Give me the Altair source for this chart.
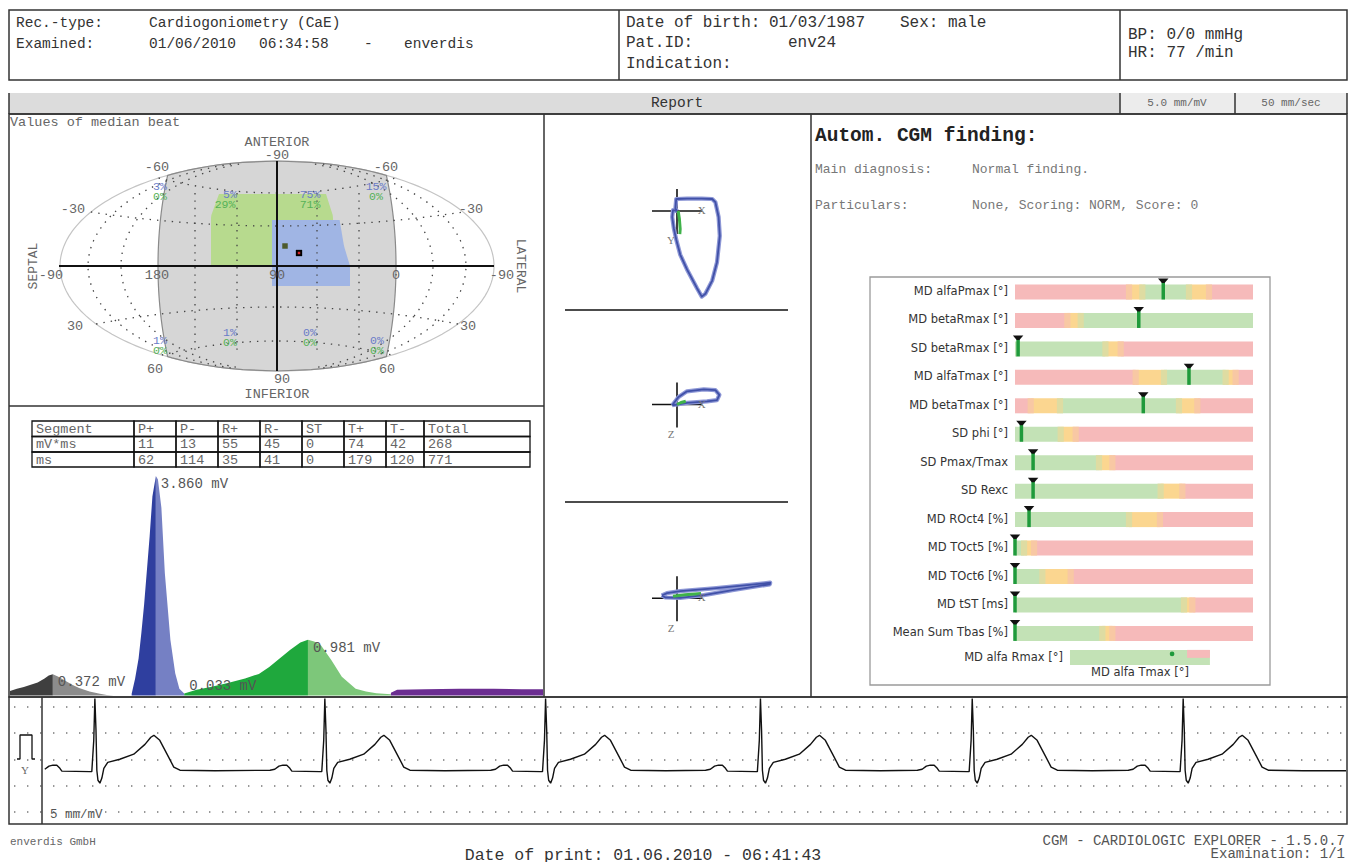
import altair as alt
import numpy as np
import pandas as pd

# ------------------------------------------------------------------ data
rec_type = "Cardiogoniometry (CaE)"
exam_day = "01/06/2010"
exam_time = "06:34:58"
exam_user = "enverdis"
birth_date = "01/03/1987"
sex_txt = "Sex: male"
pat_id = "env24"
bp_line = "BP: 0/0 mmHg"
hr_line = "HR: 77 /min"
gain_txt = "5.0 mm/mV"
speed_txt = "50 mm/sec"

table_head = ["Segment", "P+", "P-", "R+", "R-", "ST", "T+", "T-", "Total"]
table_area = ["mV*ms", "11", "13", "55", "45", "0", "74", "42", "268"]
table_dur = ["ms", "62", "114", "35", "41", "0", "179", "120", "771"]

# median-beat amplitude histogram (time in ms, amplitude in mV)
p_pos_t = [0, 10, 20, 30, 40, 50, 56, 62]
p_pos_v = [0.08, 0.12, 0.15, 0.19, 0.23, 0.30, 0.35, 0.372]
p_neg_t = [62, 70, 80, 90, 100, 115, 130, 140, 150, 176]
p_neg_v = [0.372, 0.33, 0.26, 0.19, 0.13, 0.07, 0.03, 0.01, 0.0, 0.0]
r_pos_t = [176, 181, 186, 190, 194, 198, 202, 206, 211]
r_pos_v = [0.03, 0.30, 0.65, 1.10, 1.60, 2.20, 2.80, 3.50, 3.86]
r_neg_t = [211, 214, 219, 224, 232, 239, 245, 252]
r_neg_v = [3.86, 3.80, 3.30, 2.15, 0.98, 0.39, 0.12, 0.033]
t_pos_t = [252, 270, 290, 315, 340, 360, 375, 390, 405, 420, 431]
t_pos_v = [0.033, 0.10, 0.15, 0.22, 0.30, 0.38, 0.50, 0.65, 0.80, 0.93, 0.981]
t_neg_t = [431, 440, 450, 465, 480, 500, 515, 530, 551]
t_neg_v = [0.981, 0.95, 0.88, 0.62, 0.33, 0.12, 0.07, 0.04, 0.02]
rest_t = [551, 560, 600, 650, 700, 740, 771]
rest_v = [0.05, 0.10, 0.11, 0.12, 0.12, 0.11, 0.11]
peak_labels = ["0.372 mV", "3.860 mV", "0.981 mV"]
peak_t = [62, 211, 431]
peak_v = [0.372, 3.86, 0.981]
low_label = ["0.033 mV"]
low_t = [252]
low_v = [0.033]

# sphere (values of median beat)
sphere_lbl = ["ANTERIOR", "-90", "-60", "-60", "-30", "-30", "-90", "180", "90", "0",
              "-90", "30", "30", "60", "60", "90", "INFERIOR"]
pct_blue = ["3%", "5%", "75%", "15%", "1%", "1%", "0%", "0%"]
pct_green = ["0%", "29%", "71%", "0%", "0%", "0%", "0%", "0%"]
green_y = [-72, -50, 0]
green_l = [-58, -66, -66]
green_r = [49, 56, 56]
blue_y = [-46, -20, 0, 20]
blue_l = [-5, -5, -5, -5]
blue_r = [62.6, 67, 73, 73]

# vector loops (mV)
loop1_x = [0, -0.04, -0.02, 0.25, 0.62, 0.88, 0.96, 1.04, 1.07, 1.0, 0.88, 0.71, 0.62, 0.5, 0.25, 0.08, -0.02, -0.08, -0.12, -0.1, 0]
loop1_y = [0, -0.06, -0.3, -0.31, -0.31, -0.3, -0.22, 0.15, 0.62, 1.28, 1.74, 2.07, 2.14, 1.93, 1.46, 1.09, 0.71, 0.43, 0.15, -0.02, 0]
tloop1_x = [0.03, 0.06, 0.08, 0.07]
tloop1_y = [0.0, 0.2, 0.45, 0.58]
loop2_x = [-0.12, 0.04, 0.25, 0.67, 0.96, 1.06, 1.0, 0.75, 0.25, 0, -0.12]
loop2_z = [0.02, -0.19, -0.33, -0.38, -0.36, -0.24, -0.11, -0.08, -0.04, 0, 0.02]
tloop2_x = [0.0, 0.1, 0.22]
tloop2_z = [0.0, -0.05, -0.08]
loop3_x = [-0.38, -0.25, 0.08, 0.92, 1.75, 2.33, 2.32, 1.42, 0.67, 0.08, -0.29, -0.38]
loop3_z = [-0.07, -0.13, -0.18, -0.25, -0.33, -0.39, -0.35, -0.21, -0.08, -0.01, -0.02, -0.07]
tloop3_x = [-0.1, 0.2, 0.6]
tloop3_z = [-0.05, -0.09, -0.12]

# CGM score gauges (0..100 % of scale)
gauge_names = ["MD alfaPmax [°]", "MD betaRmax [°]", "SD betaRmax [°]", "MD alfaTmax [°]",
               "MD betaTmax [°]", "SD phi [°]", "SD Pmax/Tmax", "SD Rexc", "MD ROct4 [%]",
               "MD TOct5 [%]", "MD TOct6 [%]", "MD tST [ms]", "Mean Sum Tbas [%]"]
gauge_marker = [62.3, 52.0, 1.3, 73.1, 53.9, 2.7, 7.6, 7.6, 5.9, 0.0, 0.0, 0.0, 0.0]
gauge_bounds = [[47.9, 53.5, 73.1, 81.5, 100], [22, 27.6, 100], [38, 44.4, 100],
                [50.7, 62.6, 88.5, 92.7, 100], [6.6, 18.9, 68.9, 76.6, 100], [19.2, 25.5, 100],
                [35.3, 40.9, 100], [61.2, 70.3, 100], [47.9, 60.9, 100], [3.8, 8.0, 100],
                [11.5, 23.4, 100], [71.0, 74.5, 100], [36.7, 40.9, 100]]
gauge_zones = [["p", "y", "g", "y", "p"], ["p", "y", "g"], ["g", "y", "p"],
               ["p", "y", "g", "y", "p"], ["p", "y", "g", "y", "p"], ["g", "y", "p"],
               ["g", "y", "p"], ["g", "y", "p"], ["g", "y", "p"], ["g", "y", "p"],
               ["g", "y", "p"], ["g", "y", "p"], ["g", "y", "p"]]
alfa_box_x = [23.1, 81.9]
alfa_pink_x = [72.3, 81.9]
alfa_dot = [66.0]

# ECG strip: one beat template (ms from R, mV) and R-peak times
beat_t = [-196, -179, -164, -150, -136, -125, -118, -18, -11, -4, 0, 4, 7, 11, 18, 25, 32, 46,
          89, 139, 179, 200, 211, 232, 264, 282, 304, 429]
beat_v = [0.0, 0.04, 0.17, 0.21, 0.21, 0.08, -0.04, -0.06, -0.06, 1.25, 3.0, 1.67, 0.0, -0.42,
          -0.54, -0.33, 0.08, 0.33, 0.46, 0.67, 1.08, 1.38, 1.46, 1.25, 0.54, 0.13, 0.0, -0.02]
r_peaks_ms = [189, 1011, 1800, 2568, 3325, 4079]
tail_t = [4661]
tail_v = [-0.02]
cal_v = [0, 0, 1, 1, 0, 0]

# ------------------------------------------------------------------ style / helpers
MONO = "Liberation Mono"
SANS = "DejaVu Sans"
SERIF = "Liberation Serif"
INK = "#333333"
GREY = "#666666"
SW = 1.5
W = 1338


def sc(domain, rng):
    return alt.Scale(domain=domain, range=rng, nice=False, zero=False)


def text_layer(rows, size, color=INK, font=MONO, align="left", weight="normal", angle=None,
               baseline="middle", ox=0, oy=0):
    df = pd.DataFrame(rows, columns=["label", "px", "py"])
    df["px"] = df["px"] + ox
    df["py"] = df["py"] + oy
    kw = dict(font=font, fontSize=size, color=color, align=align, baseline=baseline,
              fontWeight=weight)
    if angle is not None:
        kw["angle"] = angle
    return alt.Chart(df).mark_text(**kw).encode(
        x=alt.X("px:Q", scale=None, axis=None),
        y=alt.Y("py:Q", scale=None, axis=None),
        text="label:N")


def vdiv(x, y0, y1, color=INK, width=SW):
    return alt.Chart(pd.DataFrame({"a": [0]})).mark_rule(color=color, strokeWidth=width).encode(
        x=alt.value(x), y=alt.value(y0), y2=alt.value(y1))


def hdiv(y, x0, x1, color=INK, width=SW):
    return alt.Chart(pd.DataFrame({"a": [0]})).mark_rule(color=color, strokeWidth=width).encode(
        y=alt.value(y), x=alt.value(x0), x2=alt.value(x1))


def box(x0, x1, y0, y1, **kw):
    return alt.Chart(pd.DataFrame({"a": [0]})).mark_rect(**kw).encode(
        x=alt.value(x0), x2=alt.value(x1), y=alt.value(y0), y2=alt.value(y1))


def panel(layers, h, border=True):
    ch = alt.layer(*layers).resolve_scale(x="independent", y="independent", color="independent")
    props = dict(width=W, height=h)
    if not border:
        props["view"] = alt.ViewBackground(stroke="transparent")
    return ch.properties(**props)


# ------------------------------------------------------------------ row A: header
rowA = panel([
    text_layer([("Rec.-type:", 7, 13), (rec_type, 140, 13), ("Examined:", 7, 34),
                (exam_day, 140, 34), (exam_time, 250, 34), ("-", 355, 34),
                (exam_user, 395, 34)], 14.5),
    text_layer([("Date of birth:", 7, 12), (birth_date, 150, 12), (sex_txt, 281, 12),
                ("Pat.ID:", 7, 32), (pat_id, 169, 32), ("Indication:", 7, 53)], 16, ox=610),
    text_layer([(bp_line, 8, 24), (hr_line, 8, 42)], 16, ox=1111),
    vdiv(610, 0, 70), vdiv(1111, 0, 70),
], 70)

spacer = panel([
    alt.Chart(pd.DataFrame({"a": [0]})).mark_rule(opacity=0).encode(
        x=alt.value(2), x2=alt.value(10), y=alt.value(5))
], 13, border=False)

# ------------------------------------------------------------------ row B: report bar
rowB = panel([
    box(0, 1111, 0, 21, color="#dcdcdc"),
    box(1111, W, 0, 21, color="#ececec"),
    vdiv(0, 0, 21), vdiv(1111, 0, 21), vdiv(1226, 0, 21), vdiv(W, 0, 21),
    hdiv(21, 0, W),
    text_layer([("Report", 668, 10)], 14.5, align="center"),
    text_layer([(gain_txt, 1168, 10), (speed_txt, 1282, 10)], 11, color=GREY, align="center"),
], 21, border=False)

# ------------------------------------------------------------------ row C: sphere
A_, B_ = 217.0, 105.0
SX = sc([-268, 267], [0, 535])
SY = sc([-152, 140], [0, 292])


def sxy(xf="x", yf="y"):
    return dict(x=alt.X(f"{xf}:Q", scale=SX, axis=None), y=alt.Y(f"{yf}:Q", scale=SY, axis=None))


tt = np.linspace(0, 2 * np.pi, 241)
ell_df = pd.DataFrame({"x": A_ * np.cos(tt), "y": B_ * np.sin(tt), "o": np.arange(241)})
ys = np.linspace(-B_, B_, 161)
half = np.minimum(A_ * np.sqrt(np.clip(1 - (ys / B_) ** 2, 0, None)),
                  119 * np.sqrt(1 - (ys / 230) ** 2))
lens_df = pd.DataFrame({"y": ys, "xl": -half, "xr": half})
lens_line = pd.DataFrame({"x": np.concatenate([-half, half[::-1]]),
                          "y": np.concatenate([ys, ys[::-1]]),
                          "o": np.arange(2 * len(ys))})

grid = []
gid = 0
for ye, yc in [(-54, -40), (-88, -73), (58, 41), (89, 75)]:
    xe = A_ * np.sqrt(1 - (ye / B_) ** 2)
    xs = np.linspace(-xe, xe, 81)
    for i, xv in enumerate(xs):
        grid.append((gid, i, xv, yc + (ye - yc) * (xv / xe) ** 2))
    gid += 1
for xq in [-189, -156, 156, 189]:
    yy = np.linspace(-0.97 * B_, 0.97 * B_, 81)
    for i, yv in enumerate(yy):
        grid.append((gid, i, xq * np.sqrt(1 - (yv / B_) ** 2), yv))
    gid += 1
for xq in [-82, -40, 40, 82]:
    for i, yv in enumerate([-73, 85]):
        grid.append((gid, i, xq, yv))
    gid += 1
grid_df = pd.DataFrame(grid, columns=["g", "o", "x", "y"])

gy = np.linspace(-72, 0, 25)
green_df = pd.DataFrame({"y": gy, "xl": np.interp(gy, green_y, green_l),
                         "xr": np.interp(gy, green_y, green_r)})
by = np.linspace(-46, 20, 25)
blue_df = pd.DataFrame({"y": by, "xl": np.interp(by, blue_y, blue_l),
                        "xr": np.interp(by, blue_y, blue_r)})
cross_df = pd.DataFrame({"x": [-218, 0], "x2": [217, 0], "y": [0, -105], "y2": [0, 105]})

lbl_pos = [(0, -124), (0, -111), (-120, -99), (109, -99), (-204, -57), (194, -57), (-226, 9),
           (-120, 9), (0, 9), (119, 9), (225, 9), (-202, 60), (191, 60), (-122, 103),
           (110, 103), (5, 113), (0, 128)]
lbl_df = pd.DataFrame({"t": sphere_lbl, "x": [p[0] for p in lbl_pos], "y": [p[1] for p in lbl_pos]})
pb_pos = [(-117, -79), (-47, -71), (33, -71), (99, -79), (-117, 75), (-47, 67), (33, 67), (100, 75)]
pg_pos = [(-117, -69), (-52, -61), (33, -61), (99, -69), (-117, 85), (-47, 77), (33, 77), (100, 85)]
pb_df = pd.DataFrame({"t": pct_blue, "x": [p[0] for p in pb_pos], "y": [p[1] for p in pb_pos]})
pg_df = pd.DataFrame({"t": pct_green, "x": [p[0] for p in pg_pos], "y": [p[1] for p in pg_pos]})
mk_df = pd.DataFrame({"x": [8], "y": [-20]})
mk2_df = pd.DataFrame({"x": [22], "y": [-13]})

sphere_layers = [
    alt.Chart(lens_df).mark_area(orient="horizontal", color="#d6d6d6").encode(
        y=alt.Y("y:Q", scale=SY, axis=None), x=alt.X("xl:Q", scale=SX, axis=None), x2="xr:Q"),
    alt.Chart(green_df).mark_area(orient="horizontal", color="#b7da8e").encode(
        y=alt.Y("y:Q", scale=SY, axis=None), x=alt.X("xl:Q", scale=SX, axis=None), x2="xr:Q"),
    alt.Chart(blue_df).mark_area(orient="horizontal", color="#a0b5e4").encode(
        y=alt.Y("y:Q", scale=SY, axis=None), x=alt.X("xl:Q", scale=SX, axis=None), x2="xr:Q"),
    alt.Chart(ell_df).mark_line(color="#c4c4c4", strokeWidth=1.2).encode(**sxy(), order="o:Q"),
    alt.Chart(lens_line).mark_line(color="#8a8a8a", strokeWidth=1.2).encode(**sxy(), order="o:Q"),
    alt.Chart(grid_df).mark_line(color="#444444", strokeWidth=1.3, strokeDash=[1.4, 6]).encode(
        **sxy(), order="o:Q", detail="g:N"),
    alt.Chart(cross_df).mark_rule(color="#111111", strokeWidth=2).encode(
        x=alt.X("x:Q", scale=SX, axis=None), x2="x2:Q",
        y=alt.Y("y:Q", scale=SY, axis=None), y2="y2:Q"),
    alt.Chart(mk_df).mark_square(size=30, color="#4d5a2c", opacity=1).encode(**sxy()),
    alt.Chart(mk2_df).mark_square(size=40, color="#000000", opacity=1).encode(**sxy()),
    alt.Chart(mk2_df).mark_square(size=6, color="#d62728", opacity=1).encode(**sxy()),
    alt.Chart(lbl_df).mark_text(font=MONO, fontSize=13.5, color=GREY, baseline="middle").encode(
        **sxy(), text="t:N"),
    alt.Chart(pb_df).mark_text(font=MONO, fontSize=11.5, color="#6a7cc8", baseline="middle").encode(
        **sxy(), text="t:N"),
    alt.Chart(pg_df).mark_text(font=MONO, fontSize=11.5, color="#55b257", baseline="middle").encode(
        **sxy(), text="t:N"),
    text_layer([("SEPTAL", 24, 152)], 13, color=GREY, align="center", angle=270),
    text_layer([("LATERAL", 512, 152)], 13, color=GREY, align="center", angle=90),
    text_layer([("Values of median beat", 1, 8)], 13.5, color=GREY),
]

# ------------------------------------------------------------------ row C: histogram
HOY = 292  # top of the histogram cell inside row C
col_edges = [23, 125, 167, 209, 251, 293, 335, 377, 415, 521]
row_edges = [15, 30.5, 46, 61]
cells = []
for r, row in enumerate([table_head, table_area, table_dur]):
    for c, val in enumerate(row):
        cells.append((val, col_edges[c], col_edges[c + 1], row_edges[r] + HOY,
                      row_edges[r + 1] + HOY))
cell_df = pd.DataFrame(cells, columns=["label", "x0", "x1", "y0", "y1"])
cell_df["tx"] = cell_df["x0"] + 4
cell_df["ty"] = (cell_df["y0"] + cell_df["y1"]) / 2

seg_names = ["P+", "P-", "R+", "R-", "T+", "T-", "rest"]
seg_colors = ["#3f3f3f", "#8c8c8c", "#2f3f9f", "#7580c4", "#1fa83d", "#7dc77a", "#6b2d91"]
seg_series = [(p_pos_t, p_pos_v), (p_neg_t, p_neg_v), (r_pos_t, r_pos_v), (r_neg_t, r_neg_v),
              (t_pos_t, t_pos_v), (t_neg_t, t_neg_v), (rest_t, rest_v)]
hist_rows = []
for name, (ts, vs) in zip(seg_names, seg_series):
    for tv, vv in zip(ts, vs):
        hist_rows.append((name, tv, vv))
hist_df = pd.DataFrame(hist_rows, columns=["seg", "t", "v"])
HX = sc([0, 771], [1, 534])
HY = sc([0, 3.86], [HOY + 289.5, HOY + 70])
pk_df = pd.DataFrame({"label": peak_labels, "t": peak_t, "v": peak_v})
lo_df = pd.DataFrame({"label": low_label, "t": low_t, "v": low_v})

hist_layers = [
    alt.Chart(hist_df).mark_area(interpolate="linear").encode(
        x=alt.X("t:Q", scale=HX, axis=None),
        y=alt.Y("v:Q", scale=HY, axis=None, stack=None),
        color=alt.Color("seg:N", scale=alt.Scale(domain=seg_names, range=seg_colors), legend=None)),
    alt.Chart(cell_df).mark_rect(fillOpacity=0, stroke="#111111", strokeWidth=1.3).encode(
        x=alt.X("x0:Q", scale=None, axis=None), x2="x1:Q",
        y=alt.Y("y0:Q", scale=None, axis=None), y2="y1:Q"),
    alt.Chart(cell_df).mark_text(font=MONO, fontSize=13.5, color=GREY, align="left",
                                 baseline="middle").encode(
        x=alt.X("tx:Q", scale=None, axis=None), y=alt.Y("ty:Q", scale=None, axis=None),
        text="label:N"),
    alt.Chart(pk_df).mark_text(font=MONO, fontSize=14, color="#555555", align="left",
                               baseline="middle", dx=5, dy=8).encode(
        x=alt.X("t:Q", scale=HX, axis=None), y=alt.Y("v:Q", scale=HY, axis=None), text="label:N"),
    alt.Chart(lo_df).mark_text(font=MONO, fontSize=14, color="#555555", align="left",
                               baseline="middle", dx=5, dy=-8).encode(
        x=alt.X("t:Q", scale=HX, axis=None), y=alt.Y("v:Q", scale=HY, axis=None), text="label:N"),
]

# ------------------------------------------------------------------ row C: loops
MOX = 535
MX = sc([-3.325, 3.35], [MOX, MOX + 267])
MY = sc([0, 14.575], [0, 583])
plane_off = [2.425, 7.2625, 12.1075]
loops = [(loop1_x, loop1_y), (loop2_x, loop2_z), (loop3_x, loop3_z)]
tloops = [(tloop1_x, tloop1_y), (tloop2_x, tloop2_z), (tloop3_x, tloop3_z)]
lp, tl = [], []
for k, ((lx, ly), (gx, gyy)) in enumerate(zip(loops, tloops)):
    for i, (a, b) in enumerate(zip(lx, ly)):
        lp.append((k, i, a, b + plane_off[k]))
    for i, (a, b) in enumerate(zip(gx, gyy)):
        tl.append((k, i, a, b + plane_off[k]))
lp_df = pd.DataFrame(lp, columns=["k", "o", "x", "y"])
tl_df = pd.DataFrame(tl, columns=["k", "o", "x", "y"])
cr = []
for off in plane_off:
    cr.append((-0.625, 0.625, off, off))
    cr.append((0.0, 0.0, off - 0.55, off + 0.575))
cr_df = pd.DataFrame(cr, columns=["x", "x2", "y", "y2"])
ax_lbl = []
for off, v in zip(plane_off, ["Y", "Z", "Z"]):
    ax_lbl.append(("X", 0.62, off))
    ax_lbl.append((v, -0.15, off + 0.76))
ax_df = pd.DataFrame(ax_lbl, columns=["t", "x", "y"])


def mxy():
    return dict(x=alt.X("x:Q", scale=MX, axis=None), y=alt.Y("y:Q", scale=MY, axis=None))


mid_layers = [
    hdiv(196, MOX + 21, MOX + 244, color="#111111"),
    hdiv(388, MOX + 21, MOX + 244, color="#111111"),
    alt.Chart(cr_df).mark_rule(color="#111111", strokeWidth=1.6).encode(
        x=alt.X("x:Q", scale=MX, axis=None), x2="x2:Q",
        y=alt.Y("y:Q", scale=MY, axis=None), y2="y2:Q"),
    alt.Chart(lp_df).mark_line(color="#8e98d6", strokeWidth=4.2, strokeJoin="round").encode(
        **mxy(), order="o:Q", detail="k:N"),
    alt.Chart(lp_df).mark_line(color="#4151a8", strokeWidth=1.8, strokeJoin="round").encode(
        **mxy(), order="o:Q", detail="k:N"),
    alt.Chart(tl_df).mark_line(color="#3fb24a", strokeWidth=3, strokeJoin="round").encode(
        **mxy(), order="o:Q", detail="k:N"),
    alt.Chart(ax_df).mark_text(font=SERIF, fontSize=11, color="#777777", baseline="middle").encode(
        **mxy(), text="t:N"),
]

# ------------------------------------------------------------------ row C: findings / gauges
ROX = 802
GX = sc([0, 100], [ROX + 204, ROX + 442])
GY = sc([0, 12], [178, 519.4])
BAR_HALF = 0.264
FADE = 1.3  # half-width of the soft colour transition between zones
seg_rows = []
for r, (bnds, zns) in enumerate(zip(gauge_bounds, gauge_zones)):
    start = 0.0
    for b, z in zip(bnds, zns):
        seg_rows.append((r, start, b, z))
        start = b
    for b, z0, z1 in zip(bnds[:-1], zns[:-1], zns[1:]):
        seg_rows.append((r, b - FADE, b + FADE, "".join(sorted(z0 + z1))))
g_df = pd.DataFrame(seg_rows, columns=["row", "x0", "x1", "zone"])
g_df["y0"] = g_df["row"] - BAR_HALF
g_df["y1"] = g_df["row"] + BAR_HALF
m_df = pd.DataFrame({"row": range(len(gauge_marker)), "v": gauge_marker, "name": gauge_names})
m_df["y0"] = m_df["row"] - 0.36
m_df["y1"] = m_df["row"] + BAR_HALF
m_df["yc"] = m_df["row"] - 0.40
mini = pd.DataFrame({"x0": [alfa_box_x[0], alfa_pink_x[0]], "x1": [alfa_box_x[1], alfa_pink_x[1]],
                     "y0": [12.58, 12.58], "y1": [13.11, 12.86], "zone": ["g", "p"]})
dot_df = pd.DataFrame({"v": alfa_dot, "y": [12.72]})
zone_scale = alt.Scale(domain=["p", "y", "g", "py", "gy", "gp"],
                       range=["#f6baba", "#fbd690", "#c3e2b6", "#f8c8a4", "#dedca2", "#dccdb6"])
cap_shape = "M -1 -0.4 L 1 -0.4 L 0.25 0.45 L -0.25 0.45 Z"

right_layers = [
    text_layer([("Autom. CGM finding:", 4, 21)], 19.5, color="#222222", weight="bold", ox=ROX),
    text_layer([("Main diagnosis:", 4, 55), ("Normal finding.", 161, 55),
                ("Particulars:", 4, 91), ("None, Scoring: NORM, Score: 0", 161, 91)],
               13, color="#777777", ox=ROX),
    box(ROX + 59, ROX + 459, 163, 571, fillOpacity=0, stroke="#9a9a9a", strokeWidth=1.3),
    alt.Chart(g_df).mark_rect().encode(
        x=alt.X("x0:Q", scale=GX, axis=None), x2="x1:Q",
        y=alt.Y("y0:Q", scale=GY, axis=None), y2="y1:Q",
        color=alt.Color("zone:N", scale=zone_scale, legend=None)),
    alt.Chart(mini).mark_rect().encode(
        x=alt.X("x0:Q", scale=GX, axis=None), x2="x1:Q",
        y=alt.Y("y0:Q", scale=GY, axis=None), y2="y1:Q",
        color=alt.Color("zone:N", scale=zone_scale, legend=None)),
    alt.Chart(dot_df).mark_circle(size=22, color="#1f9a3b", opacity=1).encode(
        x=alt.X("v:Q", scale=GX, axis=None), y=alt.Y("y:Q", scale=GY, axis=None)),
    alt.Chart(m_df).mark_rule(color="#1f9a3b", strokeWidth=3.5).encode(
        x=alt.X("v:Q", scale=GX, axis=None), y=alt.Y("y0:Q", scale=GY, axis=None), y2="y1:Q"),
    alt.Chart(m_df).mark_point(shape=cap_shape, size=110, filled=True, color="#111111",
                               opacity=1).encode(
        x=alt.X("v:Q", scale=GX, axis=None), y=alt.Y("yc:Q", scale=GY, axis=None)),
    alt.Chart(m_df).mark_text(font=SANS, fontSize=11.5, color="#333333", align="right",
                              baseline="middle").encode(
        x=alt.value(ROX + 197), y=alt.Y("row:Q", scale=GY, axis=None), text="name:N"),
    text_layer([("MD alfa Rmax [°]", 252, 544)], 11.5, color="#333333", font=SANS, align="right",
               ox=ROX),
    text_layer([("MD alfa Tmax [°]", 329, 559)], 11.5, color="#333333", font=SANS, align="center",
               ox=ROX),
]

rowC = panel(
    sphere_layers + hist_layers + mid_layers + right_layers
    + [vdiv(535, 0, 583), vdiv(802, 0, 583), hdiv(292, 0, 535)],
    583)

# ------------------------------------------------------------------ row D: ECG strip
EOX = 33
ecg_rows = []
for rp in r_peaks_ms:
    for dt, v in zip(beat_t, beat_v):
        t = rp + dt
        if t >= 0:
            ecg_rows.append((t, v))
for t, v in zip(tail_t, tail_v):
    ecg_rows.append((t, v))
ecg_df = pd.DataFrame(ecg_rows, columns=["t", "v"])
EX = sc([0, 4661], [EOX, W - 1])
EY = sc([-2.25, 3.0], [127, 1.5])
dots_df = pd.DataFrame({"py": [10, 36, 63, 89, 115]})
cal_df = pd.DataFrame({"px": [8, 11, 11, 23, 23, 26], "v": cal_v, "o": range(6)})
LY = sc([-2.708, 2.583], [127, 0])

rowD = panel([
    alt.Chart(dots_df).mark_rule(color="#777777", strokeWidth=1.4, strokeDash=[1.4, 11.6],
                                 strokeDashOffset=-5).encode(
        y=alt.Y("py:Q", scale=None, axis=None), x=alt.value(0), x2=alt.value(W)),
    alt.Chart(ecg_df).mark_line(color="#111111", strokeWidth=1.4, strokeJoin="bevel").encode(
        x=alt.X("t:Q", scale=EX, axis=None), y=alt.Y("v:Q", scale=EY, axis=None)),
    alt.Chart(cal_df).mark_line(color="#111111", strokeWidth=1.3, strokeJoin="bevel").encode(
        x=alt.X("px:Q", scale=None, axis=None), y=alt.Y("v:Q", scale=LY, axis=None), order="o:Q"),
    text_layer([("Y", 16, 74)], 11, color="#666666", font=SERIF, align="center"),
    text_layer([("5 mm/mV", EOX + 8, 117)], 12.5, color="#555555"),
    vdiv(EOX, 0, 127),
], 127)

# ------------------------------------------------------------------ footer
footer = panel([
    text_layer([("enverdis GmbH", 1, 18)], 11, color="#666666"),
    text_layer([("Date of print: 01.06.2010 - 06:41:43", 634, 35.5)], 16.5, color=INK,
               align="center", baseline="alphabetic"),
    text_layer([("CGM - CARDIOLOGIC EXPLORER - 1.5.0.7", 1336, 17),
                ("Examination: 1/1", 1336, 30)], 14, color="#555555", align="right"),
], 40, border=False)

# ------------------------------------------------------------------ assemble
chart = alt.vconcat(rowA, spacer, rowB, rowC, rowD, footer, spacing=0, bounds="flush").properties(
    padding={"left": 7, "top": 8, "right": 0, "bottom": 0},
    background="white",
).configure_view(stroke=INK, strokeWidth=SW)

chart.save("out.html", embed_options={"renderer": "svg", "actions": False})
